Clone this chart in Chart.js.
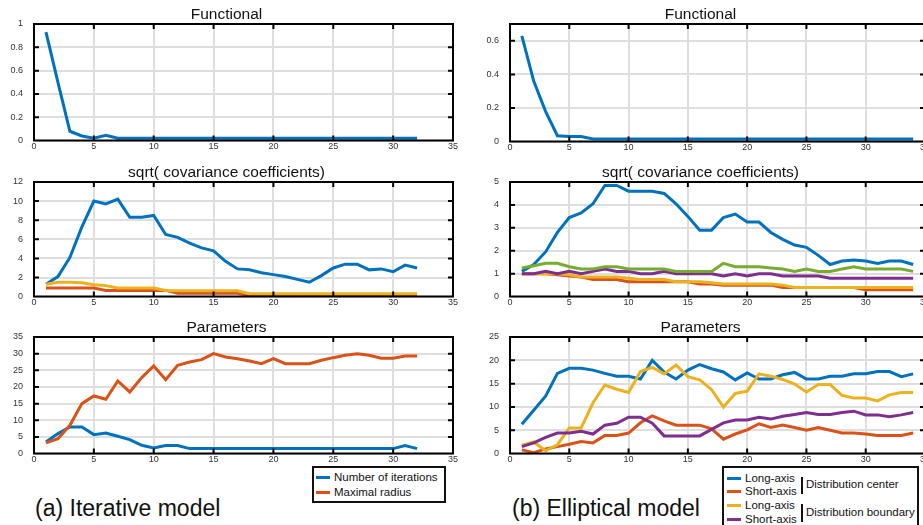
<!DOCTYPE html>
<html>
<head>
<meta charset="utf-8">
<script src="https://cdn.jsdelivr.net/npm/chart.js@4/dist/chart.umd.min.js"></script>
<style>
  html, body { margin: 0; padding: 0; overflow: hidden; background: #fff; }
  body { width: 923px; height: 525px; position: relative; font-family: 'Liberation Sans', Arial, sans-serif; }
  #page { position: absolute; left: 0; top: 0; width: 923px; height: 525px; overflow: hidden; }
  .box { position: absolute; }
  .caption { position: absolute; font-size: 23px; color: #111; white-space: nowrap; }
  .legend { position: absolute; border: 2px solid #111; background: #fff; font-size: 11.5px; color: #111; }
  .legend .row { position: absolute; white-space: nowrap; line-height: 14px; }
  .legend .sw { display: inline-block; width: 14px; height: 3px; vertical-align: middle; margin-right: 4px; }
  .legend .bar { position: absolute; width: 2px; background: #111; }
</style>
</head>
<body>
<div id="page">

<div class="box" style="left:0;top:0;width:461px;height:157px"><canvas id="aFun"></canvas></div>
<div class="box" style="left:0;top:158px;width:461px;height:155px"><canvas id="aCov"></canvas></div>
<div class="box" style="left:0;top:313px;width:461px;height:157px"><canvas id="aPar"></canvas></div>
<div class="box" style="left:476px;top:0;width:457px;height:158px"><canvas id="bFun"></canvas></div>
<div class="box" style="left:476px;top:158px;width:457px;height:155px"><canvas id="bCov"></canvas></div>
<div class="box" style="left:476px;top:313px;width:457px;height:157px"><canvas id="bPar"></canvas></div>

<div class="legend" style="left:312px;top:466px;width:130px;height:33px">
  <div class="row" style="left:2px;top:2px"><span class="sw" style="background:#0072BD"></span>Number of iterations</div>
  <div class="row" style="left:2px;top:17px"><span class="sw" style="background:#D95319"></span>Maximal radius</div>
</div>

<div class="legend" style="left:722px;top:466px;width:193px;height:70px">
  <div class="row" style="left:3px;top:3px"><span class="sw" style="background:#0072BD"></span>Long-axis</div>
  <div class="row" style="left:3px;top:16px"><span class="sw" style="background:#D95319"></span>Short-axis</div>
  <div class="row" style="left:3px;top:30px"><span class="sw" style="background:#EDB120"></span>Long-axis</div>
  <div class="row" style="left:3px;top:44px"><span class="sw" style="background:#7E2F8E"></span>Short-axis</div>
  <div class="bar" style="left:77px;top:9px;height:17px"></div>
  <div class="bar" style="left:77px;top:36px;height:18px"></div>
  <div class="row" style="left:82px;top:9px">Distribution center</div>
  <div class="row" style="left:82px;top:37px">Distribution boundary</div>
</div>

<div class="caption" style="left:35px;top:495px">(a) Iterative model</div>
<div class="caption" style="left:512px;top:495px">(b) Elliptical model</div>
</div>

<script>
const BLUE = '#0072BD', ORANGE = '#D95319', YELLOW = '#EDB120', PURPLE = '#7E2F8E', GREEN = '#77AC30';
const FONT = "'Liberation Sans', Arial, sans-serif";

// iterations
const itersA = [1,2,3,4,5,6,7,8,9,10,11,12,13,14,15,16,17,18,19,20,21,22,23,24,25,26,27,28,29,30,31,32];
const itersB = [1,2,3,4,5,6,7,8,9,10,11,12,13,14,15,16,17,18,19,20,21,22,23,24,25,26,27,28,29,30,31,32,33,34];
const xTicks = [0, 5, 10, 15, 20, 25, 30, 35];

// (a) iterative model
const aFunctional = [0.93,0.5,0.08,0.04,0.02,0.045,0.02,0.02,0.02,0.02,0.02,0.02,0.02,0.02,0.02,0.02,0.02,0.02,0.02,0.02,0.02,0.02,0.02,0.02,0.02,0.02,0.02,0.02,0.02,0.02,0.02,0.02];
const aCovBlue   = [1.3,2.1,4.1,7.3,10.0,9.7,10.2,8.3,8.3,8.5,6.5,6.2,5.6,5.1,4.8,3.7,2.9,2.8,2.5,2.3,2.1,1.8,1.5,2.2,3.0,3.4,3.4,2.8,2.9,2.6,3.3,3.0];
const aCovOrange = [0.9,0.9,0.9,0.9,0.9,0.65,0.65,0.65,0.65,0.65,0.65,0.35,0.35,0.35,0.35,0.35,0.35,0.1,0.1,0.1,0.1,0.1,0.1,0.1,0.1,0.1,0.1,0.1,0.1,0.1,0.1,0.1];
const aCovYellow = [1.3,1.5,1.5,1.45,1.25,1.15,0.9,0.9,0.9,0.9,0.65,0.6,0.6,0.6,0.6,0.6,0.6,0.3,0.3,0.3,0.3,0.3,0.3,0.3,0.3,0.3,0.3,0.3,0.3,0.3,0.3,0.3];
const aIterations = [3.5,6.0,8.0,8.0,5.7,6.2,5.2,4.2,2.5,1.7,2.4,2.4,1.5,1.5,1.5,1.5,1.5,1.5,1.5,1.5,1.5,1.5,1.5,1.5,1.5,1.5,1.5,1.5,1.5,1.5,2.4,1.5];
const aRadius    = [3.2,4.5,8.5,15.0,17.3,16.3,21.8,18.5,22.8,26.3,22.2,26.5,27.5,28.2,30.0,29.0,28.5,27.8,27.0,28.5,27.0,27.0,27.0,28.0,28.8,29.5,30.0,29.5,28.6,28.6,29.3,29.3];

// (b) elliptical model
const bFunctional = [0.63,0.36,0.18,0.035,0.03,0.03,0.015,0.015,0.015,0.015,0.015,0.015,0.015,0.015,0.015,0.015,0.015,0.015,0.015,0.015,0.015,0.015,0.015,0.015,0.015,0.015,0.015,0.015,0.015,0.015,0.015,0.015,0.015,0.015];
const bCovBlue   = [1.1,1.4,1.95,2.8,3.45,3.65,4.05,4.85,4.85,4.6,4.6,4.6,4.5,4.05,3.5,2.9,2.9,3.45,3.6,3.25,3.25,2.8,2.5,2.25,2.15,1.8,1.4,1.55,1.6,1.55,1.45,1.55,1.55,1.4];
const bCovOrange = [1.0,1.0,1.0,0.95,0.9,0.85,0.75,0.75,0.75,0.65,0.65,0.65,0.65,0.65,0.65,0.55,0.55,0.5,0.5,0.5,0.5,0.5,0.4,0.4,0.4,0.4,0.4,0.4,0.4,0.3,0.3,0.3,0.3,0.3];
const bCovYellow = [1.0,1.0,1.0,1.0,0.95,0.85,0.85,0.85,0.85,0.8,0.75,0.75,0.75,0.65,0.65,0.65,0.6,0.55,0.55,0.55,0.55,0.55,0.5,0.4,0.4,0.4,0.4,0.4,0.4,0.4,0.4,0.4,0.4,0.4];
const bCovPurple = [1.0,1.0,1.1,1.0,1.1,1.0,1.1,1.2,1.1,1.1,1.0,1.0,1.1,1.0,1.0,1.0,1.0,0.9,1.0,0.9,1.0,1.0,0.9,0.9,0.9,0.9,0.8,0.8,0.8,0.8,0.8,0.8,0.8,0.8];
const bCovGreen  = [1.25,1.35,1.45,1.45,1.3,1.2,1.2,1.3,1.3,1.2,1.2,1.2,1.2,1.1,1.1,1.1,1.1,1.45,1.3,1.3,1.3,1.25,1.2,1.1,1.2,1.1,1.1,1.2,1.3,1.2,1.2,1.2,1.2,1.1];
const bCenterLong   = [6.3,9.3,12.3,17.2,18.3,18.3,17.9,17.2,16.6,16.6,16.0,20.0,17.5,16.0,17.9,19.1,18.2,17.5,15.8,17.3,16.0,16.0,16.9,17.4,16.0,16.0,16.6,16.6,17.1,17.1,17.6,17.6,16.5,17.1];
const bCenterShort  = [0.8,0.2,1.0,1.5,2.0,2.6,2.3,3.9,3.9,4.4,6.6,8.1,7.0,6.1,6.1,6.1,5.3,3.1,4.2,5.1,6.4,5.6,6.1,5.6,5.0,5.6,5.0,4.4,4.4,4.2,3.9,3.9,3.9,4.4];
const bBoundLong    = [1.8,2.5,0.6,1.9,5.5,5.5,10.9,14.7,13.8,13.1,17.6,18.5,17.1,19.0,16.5,15.8,13.7,10.0,12.9,13.4,17.1,16.6,15.9,14.9,13.2,14.8,14.8,12.5,11.9,11.9,11.3,12.6,13.1,13.1];
const bBoundShort   = [1.5,2.3,3.5,4.4,4.4,4.8,4.2,6.1,6.5,7.8,7.8,6.5,3.8,3.8,3.8,3.8,5.2,6.6,7.2,7.2,7.8,7.4,8.0,8.4,8.8,8.4,8.4,8.8,9.1,8.3,8.3,7.9,8.3,8.8];

// y ticks
const yTicksAFun = [0, 0.2, 0.4, 0.6, 0.8, 1];
const yTicksACov = [0, 2, 4, 6, 8, 10, 12];
const yTicksAPar = [0, 5, 10, 15, 20, 25, 30, 35];
const yTicksBFun = [0, 0.2, 0.4, 0.6];
const yTicksBCov = [0, 1, 2, 3, 4, 5];
const yTicksBPar = [0, 5, 10, 15, 20, 25];

// MATLAB style box with short inward tick marks
const matlabBox = {
  id: 'matlabBox',
  afterDatasetsDraw(chart) {
    const ctx = chart.ctx;
    const a = chart.chartArea;
    const x = chart.scales.x, y = chart.scales.y;
    ctx.save();
    ctx.globalAlpha = 1;
    ctx.globalCompositeOperation = 'source-over';
    ctx.setLineDash([]);
    ctx.strokeStyle = '#000000';
    ctx.lineWidth = 2;
    ctx.beginPath();
    x.ticks.forEach(t => {
      const px = x.getPixelForValue(t.value);
      ctx.moveTo(px, a.top); ctx.lineTo(px, a.top + 5);
      ctx.moveTo(px, a.bottom); ctx.lineTo(px, a.bottom - 5);
    });
    y.ticks.forEach(t => {
      const py = y.getPixelForValue(t.value);
      ctx.moveTo(a.left, py); ctx.lineTo(a.left + 5, py);
      ctx.moveTo(a.right, py); ctx.lineTo(a.right - 5, py);
    });
    ctx.rect(a.left, a.top, a.right - a.left, a.bottom - a.top);
    ctx.stroke();
    ctx.restore();
  }
};
Chart.register(matlabBox);

const tickFont = { family: FONT, size: 9 };
const fmt = v => String(+v.toFixed(2));

function plot(id, title, iters, series, yMax, yTicks) {
  new Chart(document.getElementById(id), {
    type: 'line',
    data: {
      datasets: series.map((s, i) => ({
        data: s.values.map((v, k) => ({ x: iters[k], y: v })),
        borderColor: s.color,
        borderWidth: 3,
        pointRadius: 0,
        order: series.length - i
      }))
    },
    options: {
      responsive: false,
      animation: false,
      layout: { padding: { top: 0, right: 8, bottom: 0, left: 0 } },
      plugins: {
        legend: { display: false },
        tooltip: { enabled: false },
        title: {
          display: true,
          text: title,
          color: '#111',
          font: { family: FONT, size: 15.5, weight: 'normal' },
          padding: { top: 5, bottom: 0.4 }
        }
      },
      scales: {
        x: {
          type: 'linear',
          min: 0, max: 35,
          afterBuildTicks: s => { s.ticks = xTicks.map(v => ({ value: v })); },
          afterFit: s => { s.height = 16; },
          grid: { color: '#dedede', lineWidth: 2, drawTicks: false },
          border: { display: false },
          ticks: { color: '#333', padding: 1, maxRotation: 0, font: tickFont, callback: fmt }
        },
        y: {
          min: 0, max: yMax,
          afterBuildTicks: s => { s.ticks = yTicks.map(v => ({ value: v })); },
          afterFit: s => { s.width = 34; },
          grid: { color: '#dedede', lineWidth: 2, drawTicks: false },
          border: { display: false },
          ticks: { color: '#333', padding: 11, font: tickFont, callback: fmt }
        }
      }
    }
  });
}

// fixed canvas sizes (responsive off)
function sizeCanvas(id) {
  const c = document.getElementById(id);
  const p = c.parentElement;
  c.width = parseInt(p.style.width);
  c.height = parseInt(p.style.height);
}
['aFun', 'aCov', 'aPar', 'bFun', 'bCov', 'bPar'].forEach(sizeCanvas);

plot('aFun', 'Functional', itersA, [
  { values: aFunctional, color: BLUE }
], 1, yTicksAFun);

plot('aCov', 'sqrt( covariance coefficients)', itersA, [
  { values: aCovBlue, color: BLUE },
  { values: aCovOrange, color: ORANGE },
  { values: aCovYellow, color: YELLOW }
], 12, yTicksACov);

plot('aPar', 'Parameters', itersA, [
  { values: aIterations, color: BLUE },
  { values: aRadius, color: ORANGE }
], 35, yTicksAPar);

plot('bFun', 'Functional', itersB, [
  { values: bFunctional, color: BLUE }
], 0.7, yTicksBFun);

plot('bCov', 'sqrt( covariance coefficients)', itersB, [
  { values: bCovBlue, color: BLUE },
  { values: bCovOrange, color: ORANGE },
  { values: bCovYellow, color: YELLOW },
  { values: bCovPurple, color: PURPLE },
  { values: bCovGreen, color: GREEN }
], 5, yTicksBCov);

plot('bPar', 'Parameters', itersB, [
  { values: bCenterLong, color: BLUE },
  { values: bCenterShort, color: ORANGE },
  { values: bBoundLong, color: YELLOW },
  { values: bBoundShort, color: PURPLE }
], 25, yTicksBPar);
</script>
</body>
</html>
